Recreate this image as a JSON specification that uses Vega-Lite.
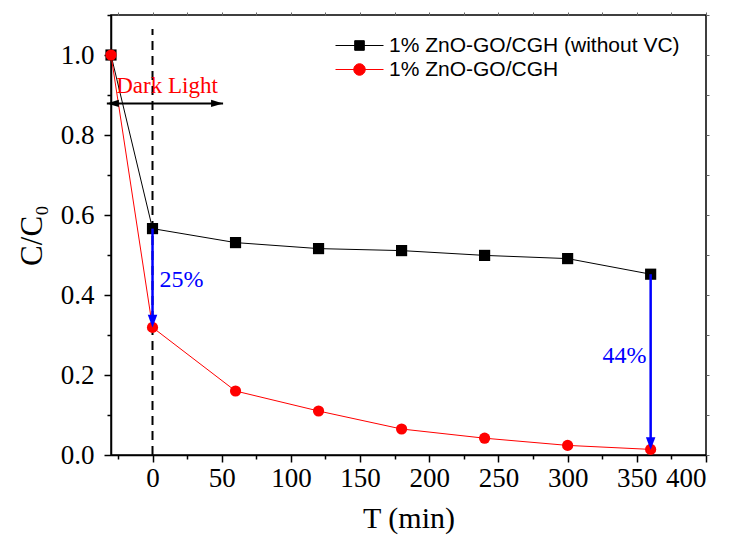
{
  "$schema": "https://vega.github.io/schema/vega-lite/v6.json",
  "width": 595,
  "height": 440,
  "autosize": "none",
  "padding": {"left": 111, "top": 15, "right": 27, "bottom": 90},
  "background": "white",
  "config": {
    "view": {"stroke": "black", "strokeWidth": 1.5},
    "axis": {
      "domainColor": "black", "domainWidth": 1.5, "tickColor": "black", "tickWidth": 1.5,
      "grid": false, "labelColor": "black", "titleColor": "black",
      "labelFont": "Liberation Serif", "titleFont": "Liberation Serif", "titleFontWeight": "normal"
    }
  },
  "datasets": {
    "main": [
      {"T": -30, "C": 1.0, "s": "1% ZnO-GO/CGH (without VC)"},
      {"T": 0, "C": 0.566, "s": "1% ZnO-GO/CGH (without VC)"},
      {"T": 60, "C": 0.531, "s": "1% ZnO-GO/CGH (without VC)"},
      {"T": 120, "C": 0.516, "s": "1% ZnO-GO/CGH (without VC)"},
      {"T": 180, "C": 0.511, "s": "1% ZnO-GO/CGH (without VC)"},
      {"T": 240, "C": 0.499, "s": "1% ZnO-GO/CGH (without VC)"},
      {"T": 300, "C": 0.491, "s": "1% ZnO-GO/CGH (without VC)"},
      {"T": 360, "C": 0.452, "s": "1% ZnO-GO/CGH (without VC)"},
      {"T": -30, "C": 1.0, "s": "1% ZnO-GO/CGH"},
      {"T": 0, "C": 0.319, "s": "1% ZnO-GO/CGH"},
      {"T": 60, "C": 0.16, "s": "1% ZnO-GO/CGH"},
      {"T": 120, "C": 0.11, "s": "1% ZnO-GO/CGH"},
      {"T": 180, "C": 0.065, "s": "1% ZnO-GO/CGH"},
      {"T": 240, "C": 0.042, "s": "1% ZnO-GO/CGH"},
      {"T": 300, "C": 0.024, "s": "1% ZnO-GO/CGH"},
      {"T": 360, "C": 0.014, "s": "1% ZnO-GO/CGH"}
    ],
    "dashed": [{"x": 0, "y": 0, "y2": 1.065}],
    "darr": [{"x": -33, "x2": 51, "y": 0.879}],
    "dheadL": [{"x": -33, "y": 0.879}],
    "dheadR": [{"x": 51, "y": 0.879}],
    "blue": [{"x": 0, "y": 0.566, "y2": 0.33}, {"x": 360, "y": 0.452, "y2": 0.03}],
    "bhead": [{"x": 0, "y": 0.319}, {"x": 360, "y": 0.013}],
    "darktxt": [{"x": 10.5, "y": 0.905, "t": "Dark Light"}],
    "pctL": [{"x": 5, "y": 0.421, "t": "25%"}],
    "pctR": [{"x": 357, "y": 0.229, "t": "44%"}]
  },
  "layer": [
    {
      "data": {"name": "dashed"},
      "mark": {"type": "rule", "color": "black", "strokeWidth": 2, "strokeDash": [9, 6]},
      "encoding": {
        "x": {"field": "x", "type": "quantitative", "scale": {"domain": [-30, 400], "nice": false, "zero": false},
          "axis": {"orient": "bottom", "values": [-25, 0, 25, 50, 75, 100, 125, 150, 175, 200, 225, 250, 275, 300, 325, 350, 375, 400],
            "labelExpr": "datum.value % 50 === 0 ? datum.label : ''", "format": "d",
            "tickSize": {"condition": {"test": "datum.value % 50 === 0", "value": 7}, "value": 4},
            "labelFontSize": 27, "labelPadding": 3, "title": "T (min)", "titleFontSize": 30, "titlePadding": 12}},
        "y": {"field": "y", "type": "quantitative", "scale": {"domain": [0, 1.1], "nice": false, "zero": false},
          "axis": {"orient": "left", "values": [0, 0.1, 0.2, 0.3, 0.4, 0.5, 0.6, 0.7, 0.8, 0.9, 1.0, 1.1],
            "labelExpr": "round(datum.value * 10) % 2 === 0 ? datum.label : ''", "format": ".1f",
            "tickSize": {"condition": {"test": "round(datum.value * 10) % 2 === 0", "value": 7}, "value": 4},
            "labelFontSize": 27, "labelPadding": 10, "title": "C/C₀", "titleFontSize": 31, "titlePadding": 12}},
        "y2": {"field": "y2"}
      }
    },
    {
      "data": {"name": "main"},
      "mark": {"type": "line", "strokeWidth": 1},
      "encoding": {
        "x": {"field": "T", "type": "quantitative", "axis": {"orient": "top", "values": [-25, 0, 25, 50, 75, 100, 125, 150, 175, 200, 225, 250, 275, 300, 325, 350, 375, 400], "labels": false, "domain": false, "tickSize": 3, "tickWidth": 1, "tickColor": "#666666", "title": null}},
        "y": {"field": "C", "type": "quantitative", "axis": {"orient": "right", "values": [0, 0.1, 0.2, 0.3, 0.4, 0.5, 0.6, 0.7, 0.8, 0.9, 1.0, 1.1], "labels": false, "domain": false, "tickSize": 3, "tickWidth": 1, "tickColor": "#666666", "title": null}},
        "color": {"field": "s", "type": "nominal", "scale": {"domain": ["1% ZnO-GO/CGH (without VC)", "1% ZnO-GO/CGH"], "range": ["#000000", "#ff0000"]}, "legend": null},
        "detail": {"field": "s"}
      }
    },
    {
      "data": {"name": "main"},
      "mark": {"type": "point", "filled": true, "opacity": 1, "size": 125},
      "encoding": {
        "x": {"field": "T", "type": "quantitative", "axis": null},
        "y": {"field": "C", "type": "quantitative", "axis": null},
        "color": {"field": "s", "type": "nominal", "scale": {"domain": ["1% ZnO-GO/CGH (without VC)", "1% ZnO-GO/CGH"], "range": ["#000000", "#ff0000"]}, "legend": null},
        "shape": {"field": "s", "type": "nominal", "scale": {"domain": ["1% ZnO-GO/CGH (without VC)", "1% ZnO-GO/CGH"], "range": ["square", "circle"]}, "legend": null}
      }
    },
    {
      "data": {"name": "darr"},
      "mark": {"type": "rule", "color": "black", "strokeWidth": 2},
      "encoding": {
        "x": {"field": "x", "type": "quantitative", "axis": null},
        "x2": {"field": "x2"},
        "y": {"field": "y", "type": "quantitative", "axis": null}
      }
    },
    {
      "data": {"name": "dheadL"},
      "mark": {"type": "point", "filled": true, "opacity": 1, "color": "black", "shape": "M0,0L2,-0.6L2,0.6Z", "size": 144},
      "encoding": {
        "x": {"field": "x", "type": "quantitative", "axis": null},
        "y": {"field": "y", "type": "quantitative", "axis": null}
      }
    },
    {
      "data": {"name": "dheadR"},
      "mark": {"type": "point", "filled": true, "opacity": 1, "color": "black", "shape": "M0,0L-2,-0.6L-2,0.6Z", "size": 144},
      "encoding": {
        "x": {"field": "x", "type": "quantitative", "axis": null},
        "y": {"field": "y", "type": "quantitative", "axis": null}
      }
    },
    {
      "data": {"name": "blue"},
      "mark": {"type": "rule", "color": "#0000ff", "strokeWidth": 2.5},
      "encoding": {
        "x": {"field": "x", "type": "quantitative", "axis": null},
        "y": {"field": "y", "type": "quantitative", "axis": null},
        "y2": {"field": "y2"}
      }
    },
    {
      "data": {"name": "bhead"},
      "mark": {"type": "point", "filled": true, "opacity": 1, "color": "#0000ff", "shape": "M0,0L-0.75,-2L0.75,-2Z", "size": 160},
      "encoding": {
        "x": {"field": "x", "type": "quantitative", "axis": null},
        "y": {"field": "y", "type": "quantitative", "axis": null}
      }
    },
    {
      "data": {"name": "darktxt"},
      "mark": {"type": "text", "color": "#ff0000", "font": "Liberation Serif", "fontSize": 23, "align": "center", "baseline": "alphabetic"},
      "encoding": {
        "x": {"field": "x", "type": "quantitative", "axis": null},
        "y": {"field": "y", "type": "quantitative", "axis": null},
        "text": {"field": "t"}
      }
    },
    {
      "data": {"name": "pctL"},
      "mark": {"type": "text", "color": "#0000ff", "font": "Liberation Serif", "fontSize": 24, "align": "left", "baseline": "alphabetic"},
      "encoding": {
        "x": {"field": "x", "type": "quantitative", "axis": null},
        "y": {"field": "y", "type": "quantitative", "axis": null},
        "text": {"field": "t"}
      }
    },
    {
      "data": {"name": "pctR"},
      "mark": {"type": "text", "color": "#0000ff", "font": "Liberation Serif", "fontSize": 24, "align": "right", "baseline": "alphabetic"},
      "encoding": {
        "x": {"field": "x", "type": "quantitative", "axis": null},
        "y": {"field": "y", "type": "quantitative", "axis": null},
        "text": {"field": "t"}
      }
    },
    {
      "data": {"name": "main"},
      "mark": {"type": "point", "filled": true, "opacity": 0},
      "encoding": {
        "x": {"field": "T", "type": "quantitative", "axis": null},
        "y": {"field": "C", "type": "quantitative", "axis": null},
        "color": {"field": "s", "type": "nominal", "scale": {"domain": ["1% ZnO-GO/CGH (without VC)", "1% ZnO-GO/CGH"], "range": ["#000000", "#ff0000"]},
          "legend": {"orient": "none", "legendX": 236, "legendY": 18, "title": null, "padding": 0,
            "labelFont": "Liberation Sans", "labelFontSize": 21, "labelColor": "black", "labelLimit": 500,
            "symbolSize": 576, "labelOffset": 17, "rowPadding": 1, "symbolOpacity": 1,
            "encode": {"symbols": {"update": {
              "fill": {"signal": "indexof(datum.value, 'without') >= 0 ? '#000000' : '#ff0000'"},
              "stroke": {"signal": "indexof(datum.value, 'without') >= 0 ? '#000000' : '#ff0000'"},
              "strokeWidth": {"value": 1}, "opacity": {"value": 1}}}}}},
        "shape": {"field": "s", "type": "nominal", "scale": {"domain": ["1% ZnO-GO/CGH (without VC)", "1% ZnO-GO/CGH"],
          "range": ["M-2,0H2M-0.4,-0.4H0.4V0.4H-0.4Z", "M-2,0H2M-0.48,0A0.48,0.48 0 1,0 0.48,0A0.48,0.48 0 1,0 -0.48,0Z"]},
          "legend": {"orient": "none", "legendX": 236, "legendY": 18, "title": null, "padding": 0,
            "labelFont": "Liberation Sans", "labelFontSize": 21, "labelColor": "black", "labelLimit": 500,
            "symbolSize": 576, "labelOffset": 17, "rowPadding": 1, "symbolOpacity": 1}}
      }
    }
  ],
  "resolve": {
    "scale": {"color": "independent", "shape": "independent"},
    "axis": {"x": "independent", "y": "independent"}
  }
}
